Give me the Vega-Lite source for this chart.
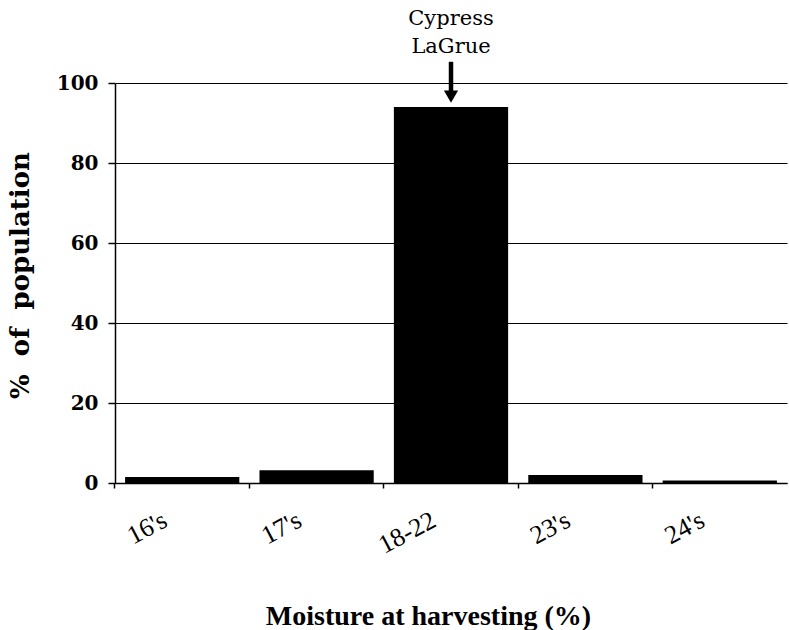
{
  "$schema": "https://vega.github.io/schema/vega-lite/v6.json",
  "autosize": "none",
  "width": 672,
  "height": 400,
  "padding": {"left": 115, "top": 83, "right": 2, "bottom": 147},
  "background": "white",
  "config": {"view": {"stroke": null}, "font": "Liberation Serif"},
  "datasets": {
    "bars": [
      {"moisture": "16's", "pct": 1.5},
      {"moisture": "17's", "pct": 3.2},
      {"moisture": "18-22", "pct": 94},
      {"moisture": "23's", "pct": 2.0},
      {"moisture": "24's", "pct": 0.6}
    ],
    "note": [
      {"moisture": "18-22", "line": "Cypress", "pos": 114.5},
      {"moisture": "18-22", "line": "LaGrue", "pos": 107.5}
    ],
    "arrow": [
      {"moisture": "18-22", "top": 105.3, "end": 98, "head": 96.6}
    ]
  },
  "layer": [
    {
      "data": {"name": "bars"},
      "mark": {"type": "bar", "color": "black"},
      "encoding": {
        "x": {
          "field": "moisture", "type": "nominal", "sort": null,
          "scale": {"paddingInner": 0.15, "paddingOuter": 0.075},
          "axis": {
            "title": "Moisture at harvesting (%)",
            "titleFont": "Liberation Serif", "titleFontSize": 28, "titleFontWeight": "bold", "titleColor": "black",
            "titleX": 313, "titleY": 133, "titleBaseline": "middle", "titleAlign": "center",
            "bandPosition": -0.0884,
            "labelAngle": -28, "labelAlign": "right", "labelBaseline": "middle",
            "labelFont": "Liberation Serif", "labelFontSize": 26, "labelFontWeight": "normal", "labelColor": "black",
            "labelPadding": 30, "labelOffset": -17,
            "tickColor": "black", "tickSize": 5, "tickWidth": 1.5,
            "domainColor": "black", "domainWidth": 1.5, "grid": false
          }
        },
        "y": {
          "field": "pct", "type": "quantitative",
          "scale": {"domain": [0, 100], "nice": false},
          "axis": {
            "title": "%\u00a0\u00a0of\u00a0\u00a0population",
            "titleFont": "DejaVu Serif", "titleFontSize": 26, "titleFontWeight": "bold", "titleColor": "black",
            "titleAngle": -90, "titleX": -95, "titleY": 192, "titleAlign": "center", "titleBaseline": "middle",
            "values": [0, 20, 40, 60, 80, 100],
            "labelFont": "DejaVu Serif", "labelFontSize": 20, "labelFontWeight": "bold", "labelColor": "black",
            "labelPadding": 10,
            "tickColor": "black", "tickSize": 7, "tickWidth": 1.5, "domainColor": "black", "domainWidth": 1.5,
            "grid": true, "gridColor": "black", "gridWidth": 1, "gridOpacity": 1
          }
        }
      }
    },
    {
      "data": {"name": "note"},
      "mark": {"type": "text", "font": "DejaVu Serif", "fontSize": 21, "fontWeight": "normal", "color": "black", "baseline": "alphabetic", "clip": false},
      "encoding": {
        "x": {"field": "moisture", "type": "nominal", "sort": null},
        "y": {"field": "pos", "type": "quantitative"},
        "text": {"field": "line"}
      }
    },
    {
      "data": {"name": "arrow"},
      "mark": {"type": "rule", "color": "black", "strokeWidth": 4.5, "clip": false},
      "encoding": {
        "x": {"field": "moisture", "type": "nominal", "sort": null},
        "y": {"field": "top", "type": "quantitative"},
        "y2": {"field": "end"}
      }
    },
    {
      "data": {"name": "arrow"},
      "mark": {"type": "point", "shape": "triangle-down", "filled": true, "color": "black", "size": 200, "opacity": 1, "clip": false},
      "encoding": {
        "x": {"field": "moisture", "type": "nominal", "sort": null},
        "y": {"field": "head", "type": "quantitative"}
      }
    }
  ]
}
